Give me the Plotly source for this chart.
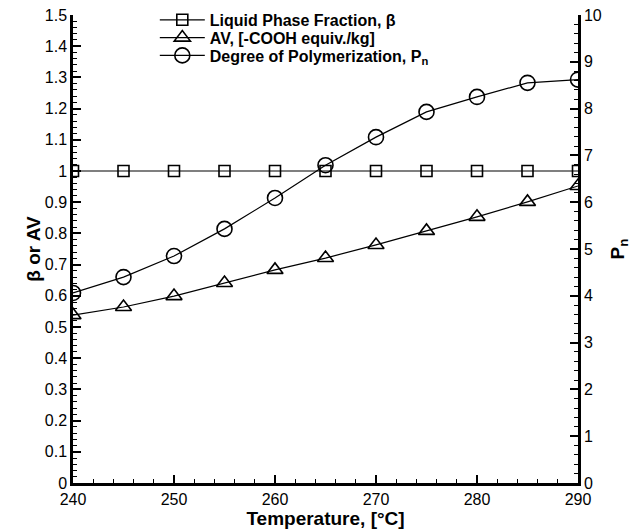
import plotly.graph_objects as go

temperature = [240, 245, 250, 255, 260, 265, 270, 275, 280, 285, 290]
beta = [1.0, 1.0, 1.0, 1.0, 1.0, 1.0, 1.0, 1.0, 1.0, 1.0, 1.0]
av = [0.538, 0.564, 0.599, 0.641, 0.683, 0.721, 0.763, 0.808, 0.853, 0.901, 0.952]
pn = [4.06, 4.40, 4.85, 5.43, 6.09, 6.79, 7.39, 7.93, 8.25, 8.55, 8.62]

names = ["Liquid Phase Fraction, β", "AV, [-COOH equiv./kg]", "Degree of Polymerization, P<sub>n</sub>"]

FONT = "Liberation Sans, Arial, sans-serif"
line = dict(color="black", width=1.2)

fig = go.Figure()
fig.add_trace(go.Scatter(x=temperature, y=beta, name=names[0], mode="lines+markers", legend="legend",
                         line=line, marker=dict(symbol="square-open", size=11, color="black", line=dict(width=1.6))))
fig.add_trace(go.Scatter(x=temperature, y=av, name=names[1], mode="lines+markers", legend="legend2",
                         line=line, marker=dict(symbol="triangle-up-open", size=14, color="black", line=dict(width=1.6))))
fig.add_trace(go.Scatter(x=temperature, y=pn, name=names[2], mode="lines+markers", yaxis="y2", legend="legend3",
                         line=line, marker=dict(symbol="circle-open", size=15, color="black", line=dict(width=1.6))))

axis_common = dict(showline=True, linecolor="black", linewidth=2.5, ticks="inside", ticklen=8,
                   tickwidth=2, tickcolor="black", showgrid=False, zeroline=False,
                   tickfont=dict(family=FONT, size=16, color="black"))

legend_common = dict(x=0.162, xanchor="left", yanchor="middle", bgcolor="rgba(0,0,0,0)",
                     font=dict(family=FONT, size=16, color="black", weight="bold"), itemwidth=45)

fig.update_layout(
    width=640, height=530,
    margin=dict(l=73, r=62, t=15, b=47, autoexpand=False),
    paper_bgcolor="white", plot_bgcolor="white",
    font=dict(family=FONT, color="black"),
    showlegend=True,
    legend=dict(y=0.9895, **legend_common),
    legend2=dict(y=0.9515, **legend_common),
    legend3=dict(y=0.9135, **legend_common),
    xaxis=dict(range=[240, 290], dtick=10, tick0=240,
               minor=dict(ticks="inside", ticklen=4, tickwidth=1, dtick=2, tickcolor="black"),
               title=dict(text="Temperature, [°C]", font=dict(family=FONT, size=19, weight="bold"), standoff=2),
               **axis_common),
    yaxis=dict(range=[0, 1.5], dtick=0.1, tick0=0,
               minor=dict(ticks="inside", ticklen=4, tickwidth=1, dtick=0.02, tickcolor="black"),
               title=dict(text="β or AV", font=dict(family=FONT, size=19, weight="bold"), standoff=0),
               **axis_common),
    yaxis2=dict(range=[0, 10], dtick=1, tick0=0, overlaying="y", side="right",
                minor=dict(ticks="inside", ticklen=4, tickwidth=1, dtick=0.2, tickcolor="black"),
                title=dict(text="P<sub>n</sub>", font=dict(family=FONT, size=19, weight="bold"), standoff=10),
                **axis_common),
)

fig.write_html("out.html")
